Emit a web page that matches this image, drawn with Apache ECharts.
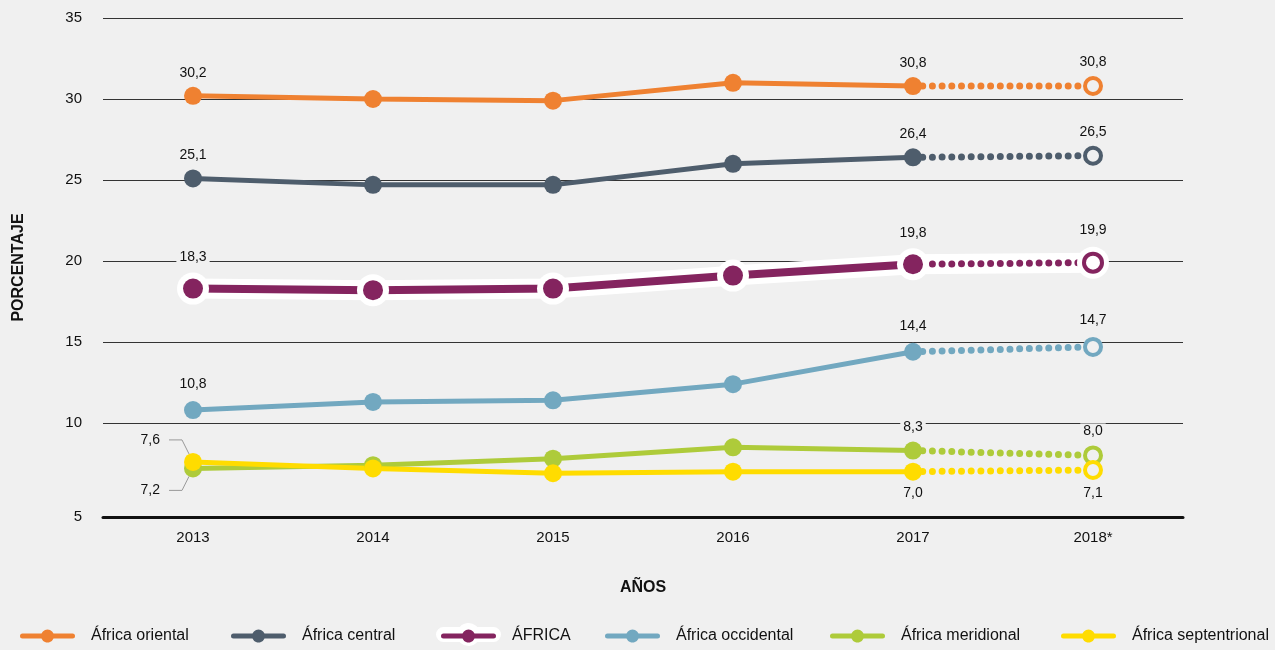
<!DOCTYPE html>
<html>
<head>
<meta charset="utf-8">
<script src="https://cdn.jsdelivr.net/npm/echarts@6/dist/echarts.min.js"></script>
<style>
    html, body { margin: 0; padding: 0; background: #f0f0f0; }
    #main { width: 1275px; height: 650px; }
</style>
</head>
<body>
<div id="main"></div>
<script>
// datos del gráfico
const years = ['2013', '2014', '2015', '2016', '2017', '2018*'];
const yTicks = [4.2, 10, 15, 20, 25, 30, 35];

const oriental = [30.2, 30.0, 29.9, 31.0, 30.8, 30.8];
const central = [25.1, 24.7, 24.7, 26.0, 26.4, 26.5];
const africa = [18.3, 18.2, 18.3, 19.1, 19.8, 19.9];
const occidental = [10.8, 11.3, 11.4, 12.4, 14.4, 14.7];
const meridional = [7.2, 7.4, 7.8, 8.5, 8.3, 8.0];
const septentrional = [7.6, 7.2, 6.9, 7.0, 7.0, 7.1];

const FONT = "'Liberation Sans Narrow', 'Liberation Sans', Arial, sans-serif";
const BG = '#f0f0f0';

// icono de la leyenda: línea con círculo
const ICON = 'path://M2.5,-2.5L21.5,-2.5A6.5,6.5,0,0,1,33.5,-2.5L52.5,-2.5A2.5,2.5,0,0,1,52.5,2.5L33.5,2.5A6.5,6.5,0,0,1,21.5,2.5L2.5,2.5A2.5,2.5,0,0,1,2.5,-2.5Z';
const HALO_ICON = 'path://M7.5,-7.5L23.78,-7.5A11.5,11.5,0,0,1,41.22,-7.5L57.5,-7.5A7.5,7.5,0,0,1,57.5,7.5L41.22,7.5A11.5,11.5,0,0,1,23.78,7.5L7.5,7.5A7.5,7.5,0,0,1,7.5,-7.5Z';

const fmt = (v) => v.toFixed(1).replace('.', ',');

const labelCfg = (extra) => Object.assign({
    show: true,
    position: 'top',
    distance: 6,
    formatter: (p) => fmt(p.value),
    fontFamily: FONT,
    fontSize: 14,
    color: '#111',
    backgroundColor: BG,
    padding: [1, 3]
}, extra || {});

// serie continua (2013-2017) y serie punteada (2017-2018)
const makeSeries = (name, color, values, opt) => {
    opt = opt || {};
    const width = opt.width || 5;
    const size = opt.size || 18;
    const solidData = values.map((v, i) => {
        if (i === 5) return '-';
        if (i === 0) return { value: v, label: labelCfg(opt.firstLabel || opt.label) };
        if (i === 4) return { value: v, label: labelCfg(opt.label) };
        return v;
    });
    const dotData = values.map((v, i) => {
        if (i < 4) return '-';
        if (i === 5) return { value: v, label: labelCfg(opt.label) };
        return v;
    });
    return [
        {
            name: name,
            type: 'line',
            data: solidData,
            symbol: 'circle',
            symbolSize: size,
            lineStyle: { color: color, width: width },
            itemStyle: { color: color },
            label: { show: false },
            silent: true,
            z: opt.z || 2
        },
        {
            name: name + ' 2018',
            type: 'line',
            data: dotData,
            symbol: (v, p) => p.dataIndex === 5 ? 'circle' : 'none',
            symbolSize: size - 2,
            showSymbol: true,
            lineStyle: { color: color, width: 7, type: [0, 9.7], cap: 'round' },
            itemStyle: { color: opt.hollow || BG, borderColor: color, borderWidth: 4 },
            label: { show: false },
            silent: true,
            z: opt.z || 2
        }
    ];
};

const myChart = echarts.init(document.getElementById('main'));

const series = [].concat(
    makeSeries('África meridional', '#aecb3a', meridional, {
        firstLabel: { position: 'left', offset: [-15, 22] }
    }),
    makeSeries('África septentrional', '#ffdc00', septentrional, {
        label: { position: 'bottom', distance: 5 },
        firstLabel: { position: 'left', offset: [-15, -22] }
    }),
    makeSeries('África occidental', '#72a8c0', occidental, { label: { distance: 9 } }),
    [{
        name: 'halo',
        type: 'line',
        data: africa,
        symbol: 'circle',
        symbolSize: 32,
        lineStyle: { color: '#ffffff', width: 20 },
        itemStyle: { color: '#ffffff' },
        silent: true,
        z: 2
    }],
    makeSeries('ÁFRICA', '#84245f', africa, {
        width: 8, size: 20, hollow: '#ffffff', label: { distance: 13 }
    }),
    makeSeries('África central', '#4e5d6c', central, {}),
    makeSeries('África oriental', '#ef8131', oriental, {})
);

const legendItems = [
    ['África oriental', 20],
    ['África central', 231],
    ['ÁFRICA', 441],
    ['África occidental', 605],
    ['África meridional', 830],
    ['África septentrional', 1061]
];

const legends = legendItems.map((it) => ({
    left: it[1],
    top: 628,
    padding: 0,
    itemWidth: 55,
    itemHeight: 13,
    icon: ICON,
    selectedMode: false,
    z: 6,
    data: [it[0]],
    textStyle: { fontFamily: FONT, fontSize: 16, color: '#111', padding: [0, 0, 0, 11] }
}));
// halo blanco bajo el icono de ÁFRICA
legends.push({
    left: 436,
    top: 623,
    padding: 0,
    itemWidth: 65,
    itemHeight: 23,
    icon: HALO_ICON,
    selectedMode: false,
    z: 5,
    data: ['halo'],
    formatter: () => '',
    textStyle: { fontSize: 1 }
});

const option = {
    backgroundColor: BG,
    animation: false,
    grid: { left: 103, right: 92, top: 18, bottom: 133 },
    legend: legends,
    xAxis: {
        type: 'category',
        data: years,
        boundaryGap: true,
        name: 'AÑOS',
        nameLocation: 'middle',
        nameGap: 63,
        nameTextStyle: { fontFamily: FONT, fontSize: 16, fontWeight: 'bold', color: '#111' },
        axisLine: { lineStyle: { color: '#111', width: 3 } },
        axisTick: { show: false },
        axisLabel: { fontFamily: FONT, fontSize: 15, color: '#111', margin: 13 }
    },
    yAxis: {
        type: 'value',
        min: 4.2,
        max: 35,
        name: 'PORCENTAJE',
        nameLocation: 'middle',
        nameGap: 76,
        nameTextStyle: { fontFamily: FONT, fontSize: 16, fontWeight: 'bold', color: '#111' },
        axisLine: { show: false },
        axisTick: { show: false, customValues: yTicks },
        splitLine: { lineStyle: { color: '#333', width: 1 } },
        axisLabel: {
            customValues: yTicks,
            formatter: (v) => v < 5 ? '5' : String(v),
            fontFamily: FONT,
            fontSize: 15,
            color: '#111',
            margin: 21
        }
    },
    series: series
};

myChart.setOption(option);

// líneas guía de las etiquetas de 2013 (7,6 y 7,2)
const leader = (val, dir) => {
    const p = myChart.convertToPixel({ gridIndex: 0 }, [0, val]);
    return {
        type: 'polyline',
        silent: true,
        z: 10,
        shape: { points: [[p[0] - 24, p[1] + dir * 22], [p[0] - 11, p[1] + dir * 22], [p[0] - 4, p[1] + dir * 8]] },
        style: { stroke: '#999', lineWidth: 1, fill: null }
    };
};
myChart.setOption({ graphic: [leader(septentrional[0], -1), leader(meridional[0], 1)] });
</script>
</body>
</html>
